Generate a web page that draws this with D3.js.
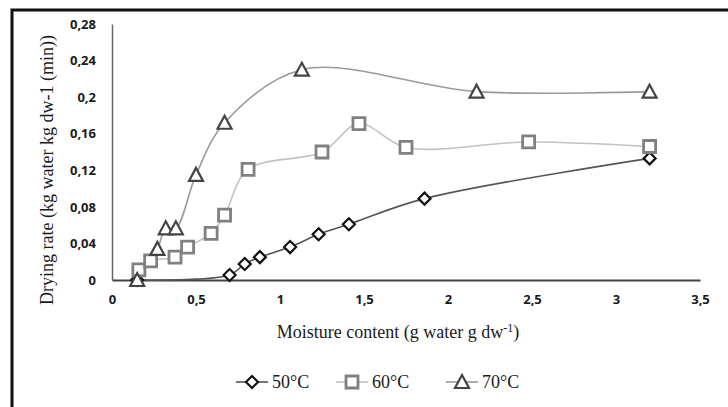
<!DOCTYPE html>
<html>
<head>
<meta charset="utf-8">
<script src="https://cdn.jsdelivr.net/npm/d3@7"></script>
<style>
  body { margin: 0; background: #fff; }
  svg { display: block; }
</style>
</head>
<body>
<svg id="chart" width="728" height="407"></svg>
<script>
const width = 728;
const height = 407;

// data
const x50 = [0.15, 0.70, 0.79, 0.88, 1.06, 1.23, 1.41, 1.86, 3.20];
const y50 = [0.000, 0.0055, 0.0175, 0.025, 0.036, 0.050, 0.061, 0.089, 0.133];
const x60 = [0.16, 0.23, 0.375, 0.45, 0.59, 0.67, 0.81, 1.25, 1.47, 1.75, 2.48, 3.20];
const y60 = [0.011, 0.021, 0.025, 0.036, 0.051, 0.071, 0.121, 0.140, 0.171, 0.145, 0.151, 0.146];
const x70 = [0.15, 0.27, 0.32, 0.38, 0.50, 0.67, 1.13, 2.17, 3.20];
const y70 = [0.000, 0.034, 0.0565, 0.0565, 0.115, 0.172, 0.230, 0.206, 0.206];

const xTicks = [0, 0.5, 1, 1.5, 2, 2.5, 3, 3.5];
const yTicks = [0, 0.04, 0.08, 0.12, 0.16, 0.2, 0.24, 0.28];
const seriesNames = ["50°C", "60°C", "70°C"];

const svg = d3.select("#chart");

const x = d3.scaleLinear().domain([0, 3.5]).range([112, 700]);
const y = d3.scaleLinear().domain([0, 0.28]).range([280, 24]);

const comma = v => String(v).replace(".", ",");

// chart frame (runs past the picture on the right and bottom)
svg.append("rect")
  .attr("x", 12).attr("y", 10)
  .attr("width", 800).attr("height", 500)
  .attr("fill", "none")
  .attr("stroke", "#111")
  .attr("stroke-width", 3);

// axes
const xAxis = svg.append("g")
  .attr("transform", `translate(0,${y(0)})`)
  .call(d3.axisBottom(x).tickValues(xTicks).tickSize(0).tickPadding(15).tickFormat(comma));
xAxis.select(".domain").attr("stroke", "#444").attr("stroke-width", 2);

const yAxis = svg.append("g")
  .attr("transform", `translate(${x(0)},0)`)
  .call(d3.axisLeft(y).tickValues(yTicks).tickSize(0).tickPadding(16).tickFormat(comma));
yAxis.select(".domain").attr("stroke", "#666").attr("stroke-width", 1.5);

svg.selectAll(".tick text")
  .attr("font-family", "'Open Sans', sans-serif")
  .attr("font-size", 13)
  .attr("font-weight", 700)
  .attr("fill", "#1a1a1a");

// axis titles
svg.append("text")
  .attr("x", 398).attr("y", 338)
  .attr("text-anchor", "middle")
  .attr("font-family", "'Liberation Serif', serif")
  .attr("font-size", 18)
  .attr("fill", "#1a1a1a")
  .html('Moisture content (g water g dw<tspan dy="-6" font-size="12">-1</tspan><tspan dy="6">)</tspan>');

svg.append("text")
  .attr("transform", "translate(53,170) rotate(-90)")
  .attr("text-anchor", "middle")
  .attr("font-family", "'Liberation Serif', serif")
  .attr("font-size", 18)
  .attr("fill", "#1a1a1a")
  .text("Drying rate (kg water kg dw-1 (min))");

// series
const series = [
  { name: seriesNames[0], xs: x50, ys: y50, line: "#555", mark: "diamond", stroke: "#111", sw: 2.2 },
  { name: seriesNames[1], xs: x60, ys: y60, line: "#c2c2c2", mark: "square", stroke: "#808080", sw: 2.8 },
  { name: seriesNames[2], xs: x70, ys: y70, line: "#9a9a9a", mark: "triangle", stroke: "#444", sw: 2.2 }
];

const symbols = {
  diamond: "M0,-6L6,0L0,6L-6,0Z",
  square: "M-6,-6H6V6H-6Z",
  triangle: "M0,-7L7,6H-7Z"
};

const line = d3.line()
  .x(d => x(d[0]))
  .y(d => y(d[1]))
  .curve(d3.curveCatmullRom.alpha(0.5));

series.forEach(s => {
  const pts = s.xs.map((v, i) => [v, s.ys[i]]);
  svg.append("path")
    .attr("d", line(pts))
    .attr("fill", "none")
    .attr("stroke", s.line)
    .attr("stroke-width", 1.6);
});

series.forEach(s => {
  const pts = s.xs.map((v, i) => [v, s.ys[i]]);
  svg.append("g").selectAll("path")
    .data(pts)
    .enter().append("path")
    .attr("transform", d => `translate(${x(d[0])},${y(d[1])})`)
    .attr("d", symbols[s.mark])
    .attr("fill", "#fff")
    .attr("stroke", s.stroke)
    .attr("stroke-width", s.sw);
});

// legend
const legendStart = [236, 336, 446];
const legend = svg.append("g").attr("transform", "translate(0,382)");
series.forEach((s, i) => {
  const g = legend.append("g").attr("transform", `translate(${legendStart[i]},0)`);
  g.append("line")
    .attr("x1", 0).attr("x2", 32)
    .attr("stroke", s.line).attr("stroke-width", 1.6);
  g.append("path")
    .attr("transform", "translate(16,0)")
    .attr("d", symbols[s.mark])
    .attr("fill", "#fff")
    .attr("stroke", s.stroke)
    .attr("stroke-width", s.sw);
  g.append("text")
    .attr("x", 36).attr("y", 6)
    .attr("font-family", "'Liberation Serif', serif")
    .attr("font-size", 18)
    .attr("fill", "#1a1a1a")
    .text(s.name);
});
</script>
</body>
</html>
